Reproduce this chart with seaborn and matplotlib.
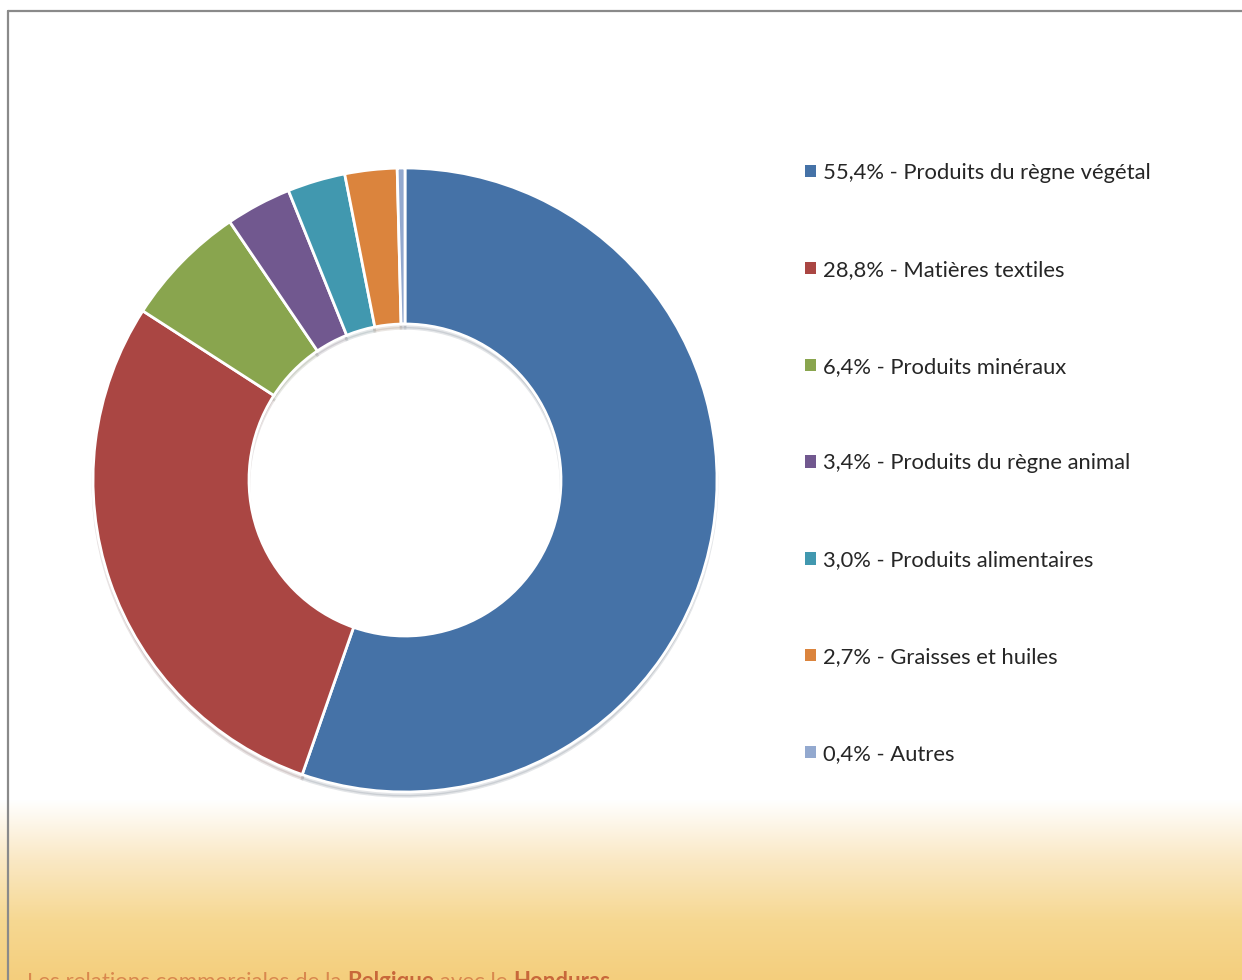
import numpy as np
import seaborn as sns
import matplotlib.pyplot as plt
from matplotlib.patches import Rectangle
from matplotlib.lines import Line2D

categories = ['Produits du règne végétal', 'Matières textiles', 'Produits minéraux',
              'Produits du règne animal', 'Produits alimentaires', 'Graisses et huiles',
              'Autres']
shares = [55.4, 28.8, 6.4, 3.4, 3.0, 2.7, 0.4]
share_labels = ['55,4%', '28,8%', '6,4%', '3,4%', '3,0%', '2,7%', '0,4%']
colors = ['#4572A7', '#AA4643', '#89A54E', '#71588F', '#4198AF', '#DB843D', '#93A9CF']

sns.set_style('white')
plt.rcParams['font.family'] = ['Lato', 'DejaVu Sans']

W, H = 1242, 980
fig = plt.figure(figsize=(W / 100, H / 100), dpi=100)

# background gradient at the bottom
bg = fig.add_axes([0, 0, 1, 1], zorder=-5)
ys = np.arange(H)
stops_y = [0, 800, 860, 920, 980]
stops_c = np.array([[255, 255, 255], [255, 255, 255], [250, 232, 196],
                    [246, 216, 146], [244, 206, 124]]) / 255
grad = np.stack([np.interp(ys, stops_y, stops_c[:, k]) for k in range(3)], axis=-1)
img = np.repeat(grad[:, None, :], 2, axis=1)
bg.imshow(img, extent=[0, W, H, 0], aspect='auto', interpolation='bilinear')
bg.set_xlim(0, W)
bg.set_ylim(H, 0)
bg.axis('off')

# frame lines (left and top only visible)
fig.add_artist(Line2D([8 / W, 8 / W], [0, 1 - 11 / H], color='#8a8a8a', lw=1.6))
fig.add_artist(Line2D([8 / W, 1], [1 - 11 / H, 1 - 11 / H], color='#8a8a8a', lw=1.6))

# donut
cx, cy, r = 405, 480, 312
ax = fig.add_axes([(cx - r) / W, (H - cy - r) / H, 2 * r / W, 2 * r / H])
wedges, _ = ax.pie(shares, colors=colors, startangle=90, counterclock=False,
                   radius=1.0,
                   wedgeprops=dict(width=0.5, edgecolor='white', linewidth=2),
                   shadow={'ox': 0.0, 'oy': -0.01, 'shade': 0.6, 'alpha': 0.12})
ax.set_xlim(-1, 1)
ax.set_ylim(-1, 1)
ax.set_aspect('equal')
ax.axis('off')

# legend
handles = [Rectangle((0, 0), 1, 1, facecolor=c, edgecolor='none') for c in colors]
labels = [f'{s} - {c}' for s, c in zip(share_labels, categories)]
fig.legend(handles, labels, loc='upper left', bbox_to_anchor=(805 / W, 1 - 163 / H),
           frameon=False, fontsize=15.8, handlelength=0.5, handleheight=0.5,
           handletextpad=0.3, labelspacing=3.5, borderpad=0, borderaxespad=0)

# footer text, cut by the bottom edge as in the original
y0 = 1 - 988 / H
parts = [('Les relations commerciales de la ', 'normal', '#D9884E'),
         ('Belgique', 'bold', '#C8683A'),
         (' avec le ', 'normal', '#D9884E'),
         ('Honduras', 'bold', '#C8683A')]
fig.canvas.draw()
rend = fig.canvas.get_renderer()
x = 27 / W
for txt, wt, col in parts:
    t = fig.text(x, y0, txt, fontsize=16, color=col, weight=wt, va='baseline')
    x = t.get_window_extent(rend).x1 / W

fig.savefig('out.png', dpi=100)
